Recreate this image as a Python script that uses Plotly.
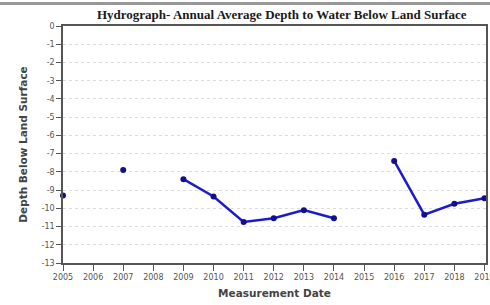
import plotly.graph_objects as go

years = [2005, 2006, 2007, 2008, 2009, 2010, 2011, 2012, 2013, 2014, 2015, 2016, 2017, 2018, 2019]
depth = [-9.3, None, -7.9, None, -8.4, -9.35, -10.75, -10.55, -10.1, -10.55, None, -7.4, -10.35, -9.75, -9.45]
y_ticks = list(range(0, -14, -1))
x_ticks = list(range(2005, 2020))

fig = go.Figure()
fig.add_trace(go.Scatter(
    x=years, y=depth, mode="lines+markers", connectgaps=False,
    line=dict(color="#1c1ccc", width=2.5),
    marker=dict(color="#10108a", size=6),
    cliponaxis=False, showlegend=False,
))

fig.update_layout(
    width=490, height=305,
    margin=dict(l=63, r=4, t=26, b=42),
    paper_bgcolor="white", plot_bgcolor="white",
    title=dict(text="<b>Hydrograph- Annual Average Depth to Water Below Land Surface</b>",
               x=0.575, xanchor="center", y=0.953, yanchor="middle",
               font=dict(family="Liberation Serif", size=13, color="#1a1a1a")),
    xaxis=dict(range=[2005, 2019.05], tickvals=x_ticks, ticktext=[str(v) for v in x_ticks],
               ticks="outside", ticklen=6, tickcolor="#555555", showgrid=False,
               showline=True, linecolor="#555555", linewidth=1.5, mirror=True,
               automargin=False, ticklabeloverflow="allow",
               tickfont=dict(family="DejaVu Sans", size=8, color="#555555"),
               title=dict(text="<b>Measurement Date</b>", standoff=8,
                          font=dict(family="DejaVu Sans", size=10.5, color="#444444")),
               zeroline=False),
    yaxis=dict(range=[-13, 0], tickvals=y_ticks, ticktext=[str(v) for v in y_ticks],
               ticks="outside", ticklen=5, tickcolor="#555555",
               showgrid=True, gridcolor="#dddddd", griddash="dot", gridwidth=1,
               showline=True, linecolor="#555555", linewidth=1.5, mirror=True,
               automargin=False,
               tickfont=dict(family="DejaVu Sans", size=8, color="#555555"),
               title=dict(text="<b>Depth Below Land Surface</b>", standoff=12,
                          font=dict(family="DejaVu Sans", size=10.5, color="#444444")),
               zeroline=False),
    shapes=[dict(type="line", xref="paper", yref="paper", x0=-0.2, x1=1.02, y0=1.095, y1=1.095,
                 line=dict(color="#999999", width=3))],
)

fig.write_html("out.html", config={"displayModeBar": False},
               post_script="document.body.style.margin='0';")
